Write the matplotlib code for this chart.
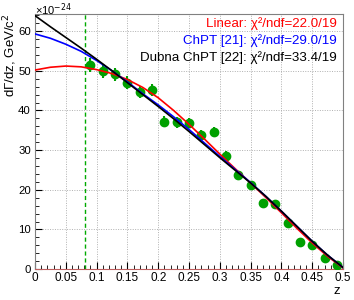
import matplotlib
matplotlib.use('Agg')
import matplotlib.pyplot as plt
from matplotlib.ticker import MultipleLocator

plt.rcParams['font.family'] = ['Liberation Sans', 'DejaVu Sans']

# measured points
z_data = [0.09, 0.11, 0.13, 0.15, 0.17, 0.19, 0.21, 0.23, 0.25, 0.27, 0.29,
          0.31, 0.33, 0.35, 0.37, 0.39, 0.41, 0.43, 0.45, 0.47, 0.49]
rate = [51.5, 50.0, 49.1, 47.0, 44.6, 45.2, 37.2, 37.0, 36.8, 33.7, 34.6,
        28.6, 23.7, 21.1, 16.6, 16.3, 11.5, 6.8, 6.1, 2.7, 1.1]
rate_err = [1.8, 1.7, 1.7, 1.6, 1.5, 1.5, 1.4, 1.4, 1.3, 1.3, 1.2,
            1.2, 1.1, 1.0, 0.9, 0.8, 0.7, 0.6, 0.5, 0.4, 0.3]

# fitted curves
z_fit = [0.0, 0.025, 0.05, 0.075, 0.1, 0.125, 0.15, 0.175, 0.2, 0.225, 0.25,
         0.275, 0.3, 0.325, 0.35, 0.375, 0.4, 0.425, 0.45, 0.475, 0.5]
linear = [50.2, 50.9, 51.2, 51.0, 50.3, 49.3, 47.8, 45.8, 43.2, 40.0, 36.5,
          32.8, 29.0, 25.3, 21.7, 18.0, 14.2, 10.3, 6.6, 3.2, 0.3]
chpt = [59.3, 58.2, 56.7, 54.9, 52.6, 50.0, 47.2, 44.2, 41.4, 38.4, 35.2,
        31.8, 28.4, 25.1, 21.8, 18.3, 14.6, 10.8, 7.0, 3.5, 0.4]
dubna = [63.9, 61.1, 58.4, 55.7, 52.9, 50.0, 47.0, 44.0, 41.0, 37.9, 34.7,
         31.4, 28.1, 24.9, 21.7, 18.3, 14.6, 10.8, 7.0, 3.5, 0.4]

labels = ['Linear: \u03c7\u00b2/ndf=22.0/19',
          'ChPT [21]: \u03c7\u00b2/ndf=29.0/19',
          'Dubna ChPT [22]: \u03c7\u00b2/ndf=33.4/19']
colors = ['#ff0000', '#0000ff', '#000000']
z_cut = 0.081

fig = plt.figure(figsize=(3.54, 3.0), dpi=100)
ax = fig.add_axes([0.099, 0.103, 0.870, 0.850])

ax.grid(True, color='#b0b0b0', linestyle=(0, (1, 1.5)), linewidth=0.7)
ax.axvline(z_cut, color='#00aa00', linestyle=(0, (3, 2)), linewidth=1.0, zorder=2)

ax.errorbar(z_data, rate, yerr=rate_err, fmt='o', color='#00a000',
            markersize=6, elinewidth=1.5, capsize=0, zorder=3)

for y, c in zip([linear, chpt, dubna], colors):
    ax.plot(z_fit, y, color=c, linewidth=1.2, zorder=4)

ax.set_xlim(0, 0.5)
ax.set_ylim(0, 64.3)
ax.xaxis.set_minor_locator(MultipleLocator(0.01))
ax.yaxis.set_major_locator(MultipleLocator(10))
ax.yaxis.set_minor_locator(MultipleLocator(2))
ax.set_xticks([0, 0.05, 0.1, 0.15, 0.2, 0.25, 0.3, 0.35, 0.4, 0.45, 0.5])
ax.set_xticklabels(['0', '0.05', '0.1', '0.15', '0.2', '0.25', '0.3', '0.35',
                    '0.4', '0.45', '0.5'])
ax.tick_params(which='both', direction='in', labelsize=8.5, pad=2)
ax.tick_params(axis='y', labelsize=8.2, pad=3)
ax.tick_params(which='major', length=5)
ax.tick_params(which='minor', length=3)
for s in ax.spines.values():
    s.set_color('#808080')
ax.spines['bottom'].set_color('#c06060')

fig.text(0.099, 0.995, '\u00d710$^{-24}$', fontsize=8, ha='left', va='top')

for i, (t, c) in enumerate(zip(labels, colors)):
    ax.text(0.98, 0.962 - i * 0.066, t, transform=ax.transAxes, color=c,
            fontsize=9.6, ha='right', va='center')

fig.text(0.004, 0.955, 'd\u0393/dz, GeV/c$^2$', rotation=90, fontsize=9.5,
         ha='left', va='top')
fig.text(0.952, 0.05, 'z', fontsize=9.5, ha='center', va='top')

fig.savefig('out.png', dpi=100)
